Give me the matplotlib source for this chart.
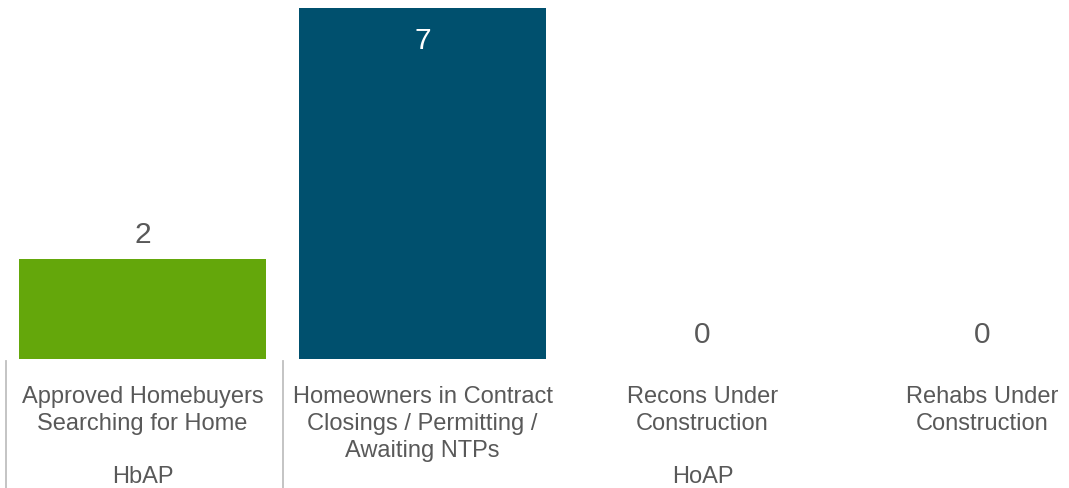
import matplotlib.pyplot as plt
from matplotlib.transforms import blended_transform_factory

plt.rcParams['font.family'] = ['Liberation Sans', 'DejaVu Sans']

# data
categories = ['Approved Homebuyers\nSearching for Home',
              'Homeowners in Contract\nClosings / Permitting /\nAwaiting NTPs',
              'Recons Under\nConstruction',
              'Rehabs Under\nConstruction']
values = [2, 7, 0, 0]
bar_colors = ['#64A70B', '#00506E', '#00506E', '#00506E']
groups = ['HbAP', 'HoAP']
group_spans = [(0, 0), (1, 3)]

W, H = 1069, 489
fig = plt.figure(figsize=(W / 100, H / 100), dpi=100)

# axes placed in pixel terms: baseline at y=360, top (7) at y=9
# category pitch 280px, first center at 142.5
left_px = 2.5
ax = fig.add_axes([left_px / W, (H - 360) / H, 280 * 4 / W, 351 / H])
ax.set_xlim(-0.5, 3.5)
ax.set_ylim(0, 7)
ax.axis('off')

x = list(range(len(values)))
bars = ax.bar(x, values, width=0.882, color=bar_colors)

grey = '#595959'
for xi, v in zip(x, values):
    if v == max(values):
        ax.annotate(str(v), (xi, v), xytext=(0, -13), textcoords='offset points',
                    ha='center', va='top', fontsize=21.5, color='white')
    else:
        ax.annotate(str(v), (xi, v), xytext=(0, 8), textcoords='offset points',
                    ha='center', va='bottom', fontsize=21.5, color=grey)

tr = blended_transform_factory(ax.transData, fig.transFigure)

for xi, lab in zip(x, categories):
    ax.text(xi, (H - 386) / H, lab, transform=tr, ha='center', va='top',
            fontsize=17, color=grey, linespacing=1.3, clip_on=False)

for g, (a, b) in zip(groups, group_spans):
    ax.text((a + b) / 2, (H - 477) / H, g, transform=tr, ha='center', va='center',
            fontsize=17, color=grey, clip_on=False)

# group separators
for sx in [-0.487, 0.5]:
    ax.plot([sx, sx], [(H - 362) / H, 0], transform=tr, color='#BFBFBF',
            lw=1.3, clip_on=False)

fig.savefig('out.png', dpi=100)
